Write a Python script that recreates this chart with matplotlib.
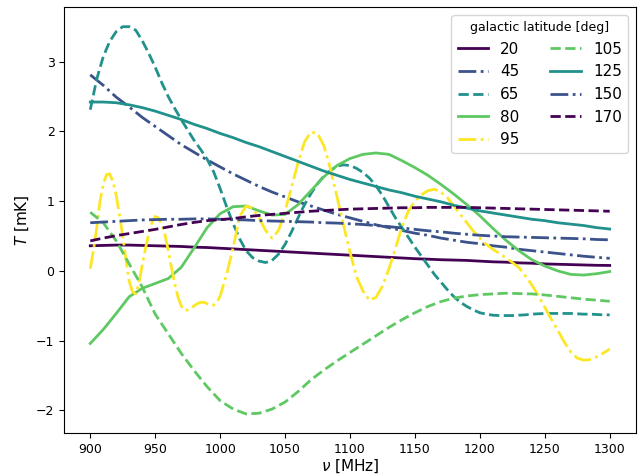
import numpy as np
import matplotlib
matplotlib.use("Agg")
import matplotlib.pyplot as plt

latitudes = [20, 45, 65, 80, 95, 105, 125, 150, 170]

freq10 = np.arange(900, 1301, 10)
freq5 = np.arange(900, 1301, 5)
freq95 = np.concatenate([np.arange(900, 1000.1, 2.5), np.arange(1005, 1301, 5)])

T20 = [0.36, 0.365, 0.37, 0.37, 0.365, 0.36, 0.355, 0.35, 0.34, 0.335, 0.325,
       0.315, 0.305, 0.295, 0.285, 0.275, 0.265, 0.255, 0.245, 0.235, 0.225,
       0.215, 0.205, 0.195, 0.185, 0.175, 0.168, 0.16, 0.155, 0.15, 0.14,
       0.13, 0.125, 0.115, 0.11, 0.10, 0.095, 0.09, 0.085, 0.08, 0.078]

T45 = [2.81, 2.66, 2.49, 2.35, 2.20, 2.07, 1.94, 1.81, 1.70, 1.59, 1.49,
       1.39, 1.30, 1.21, 1.13, 1.06, 0.99, 0.93, 0.87, 0.81, 0.76,
       0.71, 0.66, 0.62, 0.58, 0.54, 0.51, 0.47, 0.44, 0.41, 0.39,
       0.36, 0.34, 0.31, 0.29, 0.27, 0.25, 0.23, 0.21, 0.195, 0.18]

T65 = [2.31, 2.75, 3.07, 3.29, 3.43, 3.50, 3.50, 3.45, 3.30, 3.12,
       2.92, 2.70, 2.50, 2.33, 2.17, 2.02, 1.87, 1.74, 1.60, 1.42,
       1.18, 0.92, 0.68, 0.46, 0.29, 0.19, 0.14, 0.12, 0.15, 0.24,
       0.38, 0.56, 0.76, 0.95, 1.11, 1.25, 1.36, 1.44, 1.50, 1.52,
       1.51, 1.47, 1.41, 1.33, 1.22, 1.08, 0.92, 0.76, 0.62, 0.48,
       0.34, 0.21, 0.08, -0.05, -0.16, -0.27, -0.37, -0.45, -0.51, -0.56,
       -0.60, -0.62, -0.635, -0.64, -0.64, -0.64, -0.635, -0.63, -0.62, -0.615,
       -0.61, -0.61, -0.61, -0.61, -0.61, -0.615, -0.62, -0.62, -0.625, -0.63,
       -0.63]

T80 = [-1.04, -0.84, -0.61, -0.37, -0.25, -0.18, -0.11, 0.05, 0.33, 0.62, 0.82,
       0.92, 0.93, 0.86, 0.80, 0.81, 0.95, 1.15, 1.35, 1.51, 1.61,
       1.67, 1.69, 1.67, 1.58, 1.48, 1.37, 1.24, 1.10, 0.95, 0.79,
       0.61, 0.44, 0.29, 0.16, 0.07, 0.0, -0.05, -0.06, -0.04, -0.01]

T95 = [0.03, 0.30, 0.62, 1.00, 1.24, 1.38, 1.39, 1.28, 1.08, 0.80,
       0.50, 0.16, -0.15, -0.30, -0.33, -0.17, 0.08, 0.32, 0.53, 0.69,
       0.78, 0.76, 0.66, 0.52, 0.30, 0.05, -0.18, -0.37, -0.50, -0.565,
       -0.56, -0.54, -0.50, -0.47, -0.45, -0.45, -0.47, -0.49, -0.49, -0.45,
       -0.36,
       -0.05, 0.33, 0.78, 0.93, 0.90, 0.76, 0.58, 0.47, 0.58, 0.86,
       1.20, 1.55, 1.85, 1.99, 1.97, 1.79, 1.46, 1.06, 0.66, 0.27,
       -0.08, -0.29, -0.42, -0.38, -0.22, 0.03, 0.32, 0.63, 0.86, 1.00,
       1.09, 1.15, 1.17, 1.13, 1.05, 0.93, 0.81, 0.69, 0.57, 0.47,
       0.38, 0.31, 0.25, 0.19, 0.12, 0.05, -0.07, -0.20, -0.35, -0.52,
       -0.69, -0.85, -1.02, -1.16, -1.25, -1.28, -1.27, -1.23, -1.18, -1.12]

T105 = [0.84, 0.69, 0.43, 0.10, -0.23, -0.62, -0.90, -1.18, -1.43, -1.66, -1.86,
        -1.98, -2.05, -2.04, -1.98, -1.88, -1.73, -1.56, -1.42, -1.29, -1.17,
        -1.05, -0.93, -0.81, -0.70, -0.60, -0.51, -0.44, -0.39, -0.36, -0.34,
        -0.33, -0.32, -0.325, -0.33, -0.345, -0.365, -0.385, -0.405, -0.42, -0.435]

T125 = [2.42, 2.42, 2.41, 2.38, 2.34, 2.29, 2.23, 2.17, 2.10, 2.04, 1.97,
        1.91, 1.84, 1.78, 1.71, 1.64, 1.57, 1.50, 1.43, 1.37, 1.31,
        1.26, 1.21, 1.16, 1.12, 1.07, 1.03, 0.99, 0.94, 0.90, 0.86,
        0.83, 0.80, 0.77, 0.74, 0.72, 0.69, 0.67, 0.65, 0.62, 0.60]

T150 = [0.69, 0.70, 0.71, 0.72, 0.73, 0.735, 0.74, 0.74, 0.745, 0.745, 0.74,
        0.735, 0.73, 0.72, 0.715, 0.71, 0.705, 0.70, 0.69, 0.685, 0.675,
        0.665, 0.65, 0.635, 0.615, 0.595, 0.575, 0.56, 0.54, 0.525, 0.51,
        0.50, 0.49, 0.485, 0.48, 0.475, 0.47, 0.465, 0.46, 0.45, 0.445]

T170 = [0.43, 0.47, 0.505, 0.535, 0.565, 0.595, 0.63, 0.665, 0.695, 0.72, 0.735,
        0.75, 0.775, 0.795, 0.81, 0.825, 0.84, 0.855, 0.865, 0.875, 0.885,
        0.89, 0.895, 0.90, 0.905, 0.905, 0.91, 0.91, 0.91, 0.91, 0.905,
        0.90, 0.895, 0.89, 0.885, 0.88, 0.875, 0.87, 0.865, 0.86, 0.855]

series = [(freq10, T20), (freq10, T45), (freq5, T65), (freq10, T80), (freq95, T95),
          (freq10, T105), (freq10, T125), (freq10, T150), (freq10, T170)]
color_pos = [0, 0.25, 0.5, 0.75, 1.0, 0.75, 0.5, 0.25, 0]
styles = ['-', '-.', '--', '-', '-.', '--', '-', '-.', '--']

fig = plt.figure(figsize=(6.41, 4.75), dpi=100)
ax = fig.add_axes([0.1003, 0.0878, 0.8914, 0.8968])
cmap = plt.get_cmap('viridis')
for lat, (f, T), cp, ls in zip(latitudes, series, color_pos, styles):
    ax.plot(f, T, ls=ls, color=cmap(cp), lw=2, label=str(lat))

ax.tick_params(labelsize=9)
ax.set_xlabel(r'$\nu$ [MHz]', fontsize=11, labelpad=1)
ax.set_ylabel(r'$T$ [mK]', fontsize=11)
ax.legend(title='galactic latitude [deg]', title_fontsize=9, ncol=2, fontsize=11,
          loc='upper right', handlelength=2.0, labelspacing=0.5)
fig.savefig('out.png', dpi=100)
